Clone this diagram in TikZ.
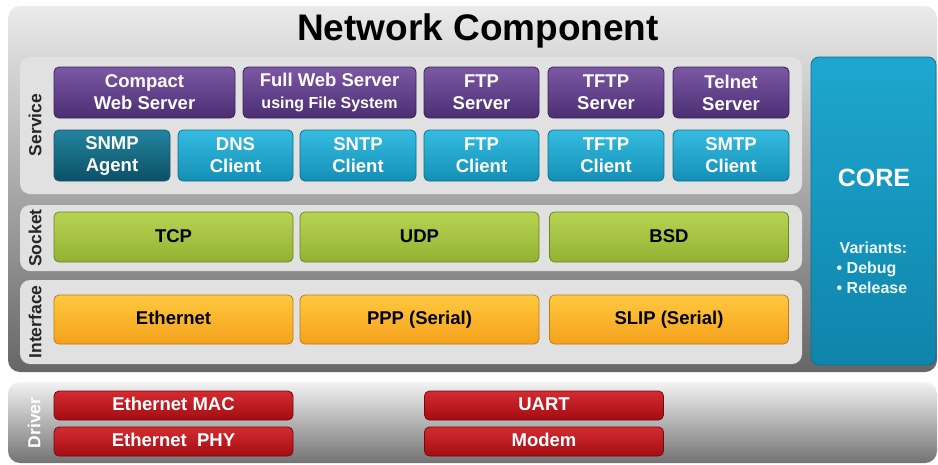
\documentclass[tikz,border=0pt]{standalone}
\usepackage{fontspec}
\setmainfont{Liberation Sans}
\usepackage{xcolor}
\usepackage{tikz}

\definecolor{servtop}{HTML}{7B58A4}
\definecolor{servbot}{HTML}{4B2E72}
\definecolor{servedge}{HTML}{3B2259}
\definecolor{clienttop}{HTML}{35BCE0}
\definecolor{clientbot}{HTML}{148FB6}
\definecolor{clientedge}{HTML}{0E6E8E}
\definecolor{agenttop}{HTML}{23849F}
\definecolor{agentbot}{HTML}{0B5066}
\definecolor{socktop}{HTML}{B8D352}
\definecolor{sockbot}{HTML}{93B232}
\definecolor{sockedge}{HTML}{6A8520}
\definecolor{iftop}{HTML}{FFC93F}
\definecolor{ifbot}{HTML}{F5A11B}
\definecolor{ifedge}{HTML}{BF7A0E}
\definecolor{drvtop}{HTML}{D42B30}
\definecolor{drvbot}{HTML}{A30D13}
\definecolor{drvedge}{HTML}{74080C}
\definecolor{coretop}{HTML}{1DA7D0}
\definecolor{corebot}{HTML}{0F84AA}
\definecolor{panelgray}{HTML}{E1E1E1}

\tikzset{
  block/.style={draw, rounded corners=5pt, line width=0.8pt, inner sep=0pt, align=center,
    minimum height=51pt, font=\bfseries\fontsize{18.5}{22}\selectfont},
  oneline/.style={block, text height=13.5pt, text depth=3.5pt},
  server/.style={block, draw=servedge, top color=servtop, bottom color=servbot, text=white},
  client/.style={block, draw=clientedge, top color=clienttop, bottom color=clientbot, text=white},
  agent/.style={block, draw=servedge!40!clientedge, top color=agenttop, bottom color=agentbot, text=white},
  socket/.style={oneline, draw=sockedge, top color=socktop, bottom color=sockbot, minimum width=239pt, minimum height=50pt},
  iface/.style={oneline, draw=ifedge, top color=iftop, bottom color=ifbot, minimum width=239pt, minimum height=49pt},
  driver/.style={oneline, draw=drvedge, top color=drvtop, bottom color=drvbot, text=white, minimum width=239pt, minimum height=29pt},
  panel/.style={fill=panelgray, rounded corners=10pt},
  layer/.style={rotate=90, font=\bfseries\fontsize{17.5}{20}\selectfont, text=black!85}
}

\begin{document}
\begin{tikzpicture}[x=1pt, y=-1pt]
    \useasboundingbox (0,0) rectangle (938,464);
    \fill[white] (0,0) rectangle (938,464);

    \path[rounded corners=12pt, top color=black!8, bottom color=black!60] (8,6) rectangle (937,372);
    \path[rounded corners=12pt, top color=black!5, bottom color=black!55] (8,382) rectangle (937,463);
    \path[panel] (20,57) rectangle (802,194);
    \path[panel] (20,205) rectangle (802,271);
    \path[panel] (20,280) rectangle (802,364);

    \node [font=\bfseries\fontsize{37}{40}\selectfont] (title) at (478,31) {Network Component};

    \node [layer] (service) at (35,125) {Service};
    \node [layer] (sock) at (35,238) {Socket};
    \node [layer] (interface) at (35,322) {Interface};
    \node [layer, text=white] (drv) at (34,423) {Driver};

    \node [server, minimum width=181pt] (cws) at (144.5,92.5) {Compact\\Web Server};
    \node [server, minimum width=173pt] (fws) at (329.5,92.5) {Full Web Server\\{\fontsize{16}{18}\selectfont using File System}};
    \node [server, minimum width=115pt] (ftps) at (481.5,92.5) {FTP\\Server};
    \node [server, minimum width=116pt] (tftps) at (606,92.5) {TFTP\\Server};
    \node [server, minimum width=116pt] (telnet) at (731,92.5) {Telnet\\Server};

    \node [agent, minimum width=116pt] (snmp) at (112,155.5) {SNMP\\Agent};
    \node [client, minimum width=115pt] (dns) at (235.5,155.5) {DNS\\Client};
    \node [client, minimum width=116pt] (sntp) at (358,155.5) {SNTP\\Client};
    \node [client, minimum width=115pt] (ftpc) at (481.5,155.5) {FTP\\Client};
    \node [client, minimum width=116pt] (tftpc) at (606,155.5) {TFTP\\Client};
    \node [client, minimum width=116pt] (smtp) at (731,155.5) {SMTP\\Client};

    \node [socket] (tcp) at (173.5,237) {TCP};
    \node [socket] (udp) at (419.5,237) {UDP};
    \node [socket] (bsd) at (669,237) {BSD};

    \node [iface] (eth) at (173.5,319.5) {Ethernet};
    \node [iface] (ppp) at (419.5,319.5) {PPP (Serial)};
    \node [iface] (slip) at (669,319.5) {SLIP (Serial)};

    \node [block, draw=clientedge, top color=coretop, bottom color=corebot, minimum width=125pt, minimum height=308pt,
      rounded corners=8pt] (core) at (873.5,211) {};
    \node [font=\bfseries\fontsize{25}{28}\selectfont, text=white] (corelabel) at (874,178) {CORE};
    \node [align=left, font=\bfseries\fontsize{16}{20}\selectfont, text=white!92!cyan] (variants) at (872,268)
      {\hspace*{3pt}Variants:\\• Debug\\• Release};

    \node [driver] (emac) at (173.5,405.5) {Ethernet MAC};
    \node [driver] (ephy) at (173.5,441.5) {Ethernet~~PHY};
    \node [driver] (uart) at (544,405.5) {UART};
    \node [driver] (modem) at (544,441.5) {Modem};
\end{tikzpicture}
\end{document}
